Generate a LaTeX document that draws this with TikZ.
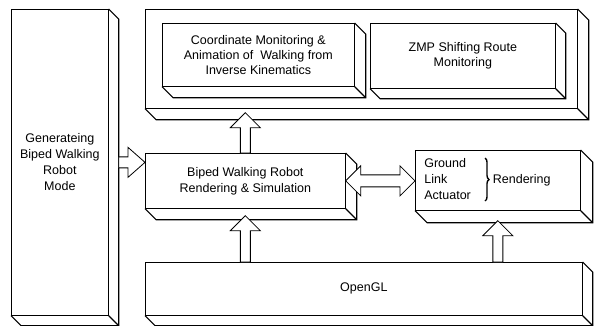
\documentclass[tikz,border=0pt]{standalone}
\usepackage{fontspec}
\setmainfont{Liberation Sans}
\usetikzlibrary{calc,decorations.pathreplacing}

% side and bottom faces of a raised box
\newcommand{\slab}[2]{%
  \draw[face] (#1.north east) -- ++(#2,#2) -- ($(#1.south east)+(#2,#2)$) -- ($(#1.south west)+(#2,#2)$) -- (#1.south west);
  \draw[face] (#1.south east) -- ++(#2,#2);}
% hollow arrows
\newcommand{\uparr}[2]{%
  \draw[arr] let \p1=(#1), \p2=(#2) in (\x1-5pt,\y1) -- (\x1-5pt,\y2-15pt) -- (\x1-15pt,\y2-15pt) -- (\x1,\y2)
    -- (\x1+15pt,\y2-15pt) -- (\x1+5pt,\y2-15pt) -- (\x1+5pt,\y1) -- cycle;}
\newcommand{\rightarr}[2]{%
  \draw[arr] let \p1=(#1), \p2=(#2) in (\x1,\y1+5.5pt) -- (\x2-17pt,\y1+5.5pt) -- (\x2-17pt,\y1+15pt) -- (\x2,\y1)
    -- (\x2-17pt,\y1-15pt) -- (\x2-17pt,\y1-5.5pt) -- (\x1,\y1-5.5pt) -- cycle;}
\newcommand{\botharr}[2]{%
  \draw[arr] let \p1=(#1), \p2=(#2) in (\x1,\y1) -- (\x1+15pt,\y1+15pt) -- (\x1+15pt,\y1+6pt) -- (\x2-15pt,\y1+6pt)
    -- (\x2-15pt,\y1+15pt) -- (\x2,\y1) -- (\x2-15pt,\y1-15pt) -- (\x2-15pt,\y1-6pt) -- (\x1+15pt,\y1-6pt)
    -- (\x1+15pt,\y1-15pt) -- cycle;}

\begin{document}
\begin{tikzpicture}[x=1pt,y=-1pt,
  font=\fontsize{12.5}{16}\selectfont,
  box/.style={draw, line width=0.7pt, anchor=north west, inner sep=0pt, align=center},
  face/.style={line width=1.1pt, line join=miter},
  arr/.style={draw, fill=white, line width=0.8pt}]
\useasboundingbox (0,0) rectangle (594,325);

\node[box, minimum width=97pt, minimum height=306pt] (gen) at (11,9) {Generateing\\Biped Walking\\Robot\\Mode};
\slab{gen}{10}
\node[box, minimum width=432pt, minimum height=99pt] (top) at (145,9) {};
\slab{top}{11}
\node[box, minimum width=192pt, minimum height=63pt, font=\fontsize{12.5}{15}\selectfont] (coord) at (162,23)
  {Coordinate Monitoring \&\\Animation of~ Walking from\\Inverse Kinematics};
\slab{coord}{11}
\node[box, minimum width=185pt, minimum height=65pt, font=\fontsize{12.5}{15}\selectfont] (zmp) at (370,23)
  {ZMP Shifting Route\\Monitoring};
\slab{zmp}{10}
\node[box, minimum width=200pt, minimum height=55pt] (sim) at (145,153) {Biped Walking Robot\\Rendering \& Simulation};
\slab{sim}{11}
\node[box, text width=147pt, align=left, inner xsep=9pt, minimum height=60pt] (ground) at (415,150)
  {\begin{tabular}{@{}l@{}}Ground\\Link\\Actuator\end{tabular}\hspace{22pt}Rendering};
\slab{ground}{12}
\draw[decorate, decoration={brace, amplitude=4pt}, line width=1.4pt]
  ($(ground.north west)+(70,8)$) -- ($(ground.north west)+(70,51)$);
\node[box, minimum width=437pt, minimum height=53pt] (opengl) at (145,262) {OpenGL};
\slab{opengl}{10}

\rightarr{$(gen.east)+(10,0)$}{sim.west |- gen.east}
\uparr{sim.north}{$(sim.north |- top.south)+(0,4)$}
\uparr{sim.south |- opengl.north}{$(sim.south)+(0,7)$}
\uparr{ground.south |- opengl.north}{$(ground.south)+(0,10)$}
\botharr{sim.east}{ground.west |- sim.east}
\end{tikzpicture}
\end{document}
